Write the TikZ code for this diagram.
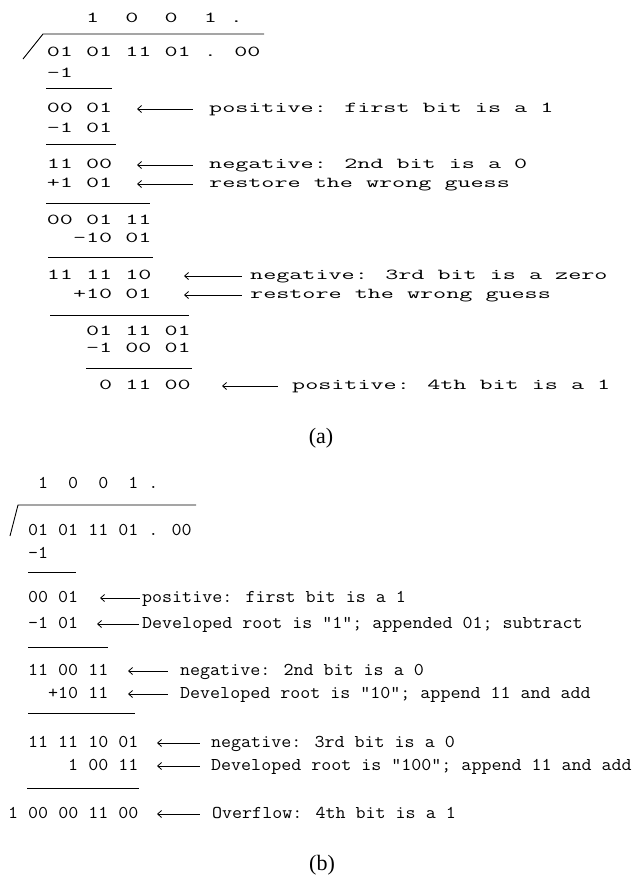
\documentclass[tikz,border=0pt]{standalone}
\usepackage{fontspec}
\setmainfont{Liberation Serif}
\usepackage{graphicx}
\usetikzlibrary{arrows.meta}
\newcommand\ta[1]{\scalebox{1.67}[1]{\fontsize{15.2}{15.2}\selectfont\ttfamily #1}}
\newcommand\tb[1]{\scalebox{1.08}[1]{\fontsize{18}{18}\selectfont\ttfamily #1}}
\tikzset{
  txt/.style={anchor=base west, inner sep=0pt},
  hrule/.style={line width=0.9pt},
  arr/.style={{Straight Barb[length=4pt,width=7pt]}-, line width=0.8pt},
  figlabel/.style={inner sep=0pt, font=\fontsize{22}{22}\selectfont}
}
\begin{document}
\begin{tikzpicture}[x=1pt,y=-1pt]
\useasboundingbox (0,0) rectangle (640,876);
% ---------------- (a) ----------------
\node[txt] (a0) at (46.7,22.7) {\ta{~~~1~~0~~0~~1~.}};
\coordinate (ar1) at (23,59);
\coordinate (ar2) at (43,34);
\coordinate (ar3) at (264,34);
\draw[hrule] (ar1) -- (ar2) -- (ar3);
\node[txt] (a1) at (46.7,56.7) {\ta{01 01 11 01 . 00}};
\node[txt] (a2) at (46.7,77.7) {\ta{-1}};
\draw[hrule] (46,88) -- (112,88);
\node[txt] (a3) at (46.7,112.7) {\ta{00 01}};
\node[txt] (ca3) at (209,112.7) {\ta{positive: first bit is a 1}};
\coordinate (ha3) at (137,109); \coordinate (ta3) at (193,109);
\draw[arr] (ha3) -- (ta3);
\node[txt] (a4) at (46.7,132.7) {\ta{-1 01}};
\draw[hrule] (46,144) -- (116,144);
\node[txt] (a5) at (46.7,168.7) {\ta{11 00}};
\node[txt] (ca5) at (209,168.7) {\ta{negative: 2nd bit is a 0}};
\coordinate (ha5) at (137,165); \coordinate (ta5) at (193,165);
\draw[arr] (ha5) -- (ta5);
\node[txt] (a6) at (46.7,187.7) {\ta{+1 01}};
\node[txt] (ca6) at (209,187.7) {\ta{restore the wrong guess}};
\coordinate (ha6) at (137,184); \coordinate (ta6) at (193,184);
\draw[arr] (ha6) -- (ta6);
\draw[hrule] (46,203) -- (150,203);
\node[txt] (a7) at (46.7,224.7) {\ta{00 01 11}};
\node[txt] (a8) at (46.7,242.7) {\ta{~~-10 01}};
\draw[hrule] (48,257) -- (153,257);
\node[txt] (a9) at (46.7,279.7) {\ta{11 11 10}};
\node[txt] (ca9) at (250,279.7) {\ta{negative: 3rd bit is a zero}};
\coordinate (ha9) at (184,276); \coordinate (ta9) at (242,276);
\draw[arr] (ha9) -- (ta9);
\node[txt] (a10) at (46.7,298.7) {\ta{~~+10 01}};
\node[txt] (ca10) at (250,298.7) {\ta{restore the wrong guess}};
\coordinate (ha10) at (184,295); \coordinate (ta10) at (242,295);
\draw[arr] (ha10) -- (ta10);
\draw[hrule] (50,315) -- (189,315);
\node[txt] (a11) at (46.7,335.7) {\ta{~~~01 11 01}};
\node[txt] (a12) at (46.7,352.7) {\ta{~~~-1 00 01}};
\draw[hrule] (86,368) -- (192,368);
\node[txt] (a13) at (46.7,389.7) {\ta{~~~~0 11 00}};
\node[txt] (ca13) at (292,389.7) {\ta{positive: 4th bit is a 1}};
\coordinate (ha13) at (222,386); \coordinate (ta13) at (278,386);
\draw[arr] (ha13) -- (ta13);
\node[figlabel] (la) at (321,438) {(a)};
% ---------------- (b) ----------------
\node[txt] (b0) at (28,488.5) {\tb{~1~~0~~0~~1~.}};
\coordinate (br1) at (10,536);
\coordinate (br2) at (18,505);
\coordinate (br3) at (196,505);
\draw[hrule] (br1) -- (br2) -- (br3);
\node[txt] (b1) at (28,535.5) {\tb{01 01 11 01 . 00}};
\node[txt] (b2) at (28,558.5) {\tb{-1}};
\draw[hrule] (28,572) -- (76,572);
\node[txt] (b3) at (28,602.5) {\tb{00 01}};
\node[txt] (cb3) at (142,602.5) {\tb{positive: first bit is a 1}};
\coordinate (hb3) at (100,598); \coordinate (tb3) at (140,598);
\draw[arr] (hb3) -- (tb3);
\node[txt] (b4) at (28,628.5) {\tb{-1 01}};
\node[txt] (cb4) at (142,628.5) {\tb{Developed root is "1"; appended 01; subtract}};
\coordinate (hb4) at (97,624); \coordinate (tb4) at (139,624);
\draw[arr] (hb4) -- (tb4);
\draw[hrule] (28,647) -- (108,647);
\node[txt] (b5) at (28,675.5) {\tb{11 00 11}};
\node[txt] (cb5) at (180,675.5) {\tb{negative: 2nd bit is a 0}};
\coordinate (hb5) at (128,671); \coordinate (tb5) at (168,671);
\draw[arr] (hb5) -- (tb5);
\node[txt] (b6) at (28,698.5) {\tb{~~+10 11}};
\node[txt] (cb6) at (180,698.5) {\tb{Developed root is "10"; append 11 and add}};
\coordinate (hb6) at (128,694); \coordinate (tb6) at (168,694);
\draw[arr] (hb6) -- (tb6);
\draw[hrule] (28,713) -- (135,713);
\node[txt] (b7) at (28,747.5) {\tb{11 11 10 01}};
\node[txt] (cb7) at (211,747.5) {\tb{negative: 3rd bit is a 0}};
\coordinate (hb7) at (157,743); \coordinate (tb7) at (200,743);
\draw[arr] (hb7) -- (tb7);
\node[txt] (b8) at (28,770.5) {\tb{~~~~1 00 11}};
\node[txt] (cb8) at (211,770.5) {\tb{Developed root is "100"; append 11 and add}};
\coordinate (hb8) at (157,766); \coordinate (tb8) at (200,766);
\draw[arr] (hb8) -- (tb8);
\draw[hrule] (27,788) -- (139,788);
\node[txt] (b9) at (8,818.5) {\tb{1 00 00 11 00}};
\node[txt] (cb9) at (212,818.5) {\tb{Overflow: 4th bit is a 1}};
\coordinate (hb9) at (157,814); \coordinate (tb9) at (200,814);
\draw[arr] (hb9) -- (tb9);
\node[figlabel] (lb) at (322,865) {(b)};
\end{tikzpicture}
\end{document}
